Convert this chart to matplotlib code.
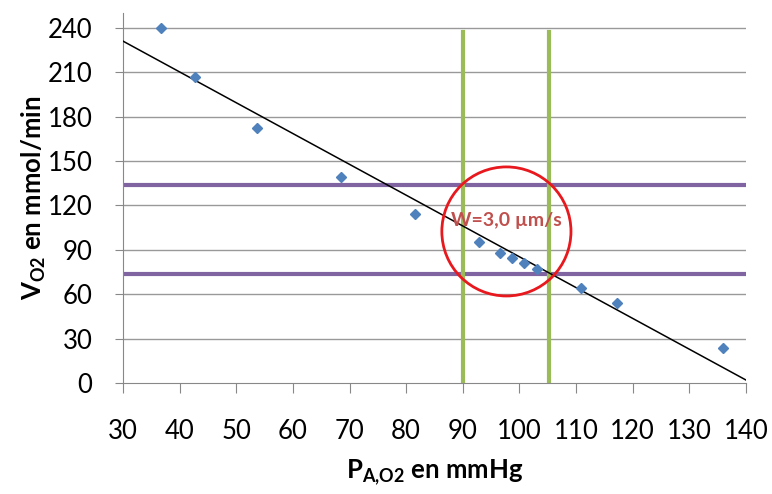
import numpy as np
import matplotlib
matplotlib.use('Agg')
import matplotlib.pyplot as plt
from matplotlib.patches import Ellipse

plt.rcParams['font.family'] = ['Lato', 'DejaVu Sans']
plt.rcParams['mathtext.fontset'] = 'custom'
plt.rcParams['mathtext.rm'] = 'Lato:bold'
plt.rcParams['mathtext.it'] = 'Lato:bold'
plt.rcParams['mathtext.bf'] = 'Lato:bold'

# measured points
p_ao2 = [36.7, 42.7, 53.7, 68.5, 81.6, 92.9, 96.6, 98.7, 100.8, 103.1, 110.9, 117.3, 136.0]
v_o2 = [240, 207, 172, 139, 114, 95, 88, 84.5, 81, 77, 64, 54, 23.5]

# trend line end points
trend_x = [30, 140]
trend_y = [231, 2]

# limits marked on the chart
v_limits = [133.5, 73.5]
p_limits = [90, 105.3]
circle_center = (97.7, 102.4)
circle_size = (22.8, 87.2)
note = 'W=3,0 µm/s'

xticks = np.arange(30, 141, 10)
yticks = np.arange(0, 241, 30)

fig = plt.figure(figsize=(7.72, 4.94), dpi=100)
ax = fig.add_axes([0.1593, 0.2247, 0.807, 0.7490])

for yv in yticks[1:]:
    ax.axhline(yv, color='#999999', lw=1.0, zorder=1)

for yv in v_limits:
    ax.axhline(yv, color='#8064A2', lw=3, zorder=2)
for xv in p_limits:
    ax.plot([xv, xv], [0, 237], color='#9BBB59', lw=3, zorder=2)

ax.plot(trend_x, trend_y, color='black', lw=1.1, zorder=3)
ax.plot(p_ao2, v_o2, 'D', color='#4F81BD', markersize=5.5, zorder=4)

ax.add_patch(Ellipse(circle_center, circle_size[0], circle_size[1], fill=False,
                     edgecolor='#E8191E', lw=2, zorder=5))
ax.text(circle_center[0], 110, note, color='#C0504D', fontsize=14,
        fontweight='bold', ha='center', va='center', zorder=6)

ax.set_xlim(30, 140)
ax.set_ylim(0, 250)
ax.set_xticks(xticks)
ax.set_yticks(yticks)
ax.tick_params(axis='x', direction='out', length=7, pad=19, labelsize=18.5,
               color='#888888')
ax.tick_params(axis='y', direction='out', length=6, pad=16, labelsize=18.5,
               color='#888888')
for s in ['top', 'right']:
    ax.spines[s].set_visible(False)
for s in ['left', 'bottom']:
    ax.spines[s].set_color('#888888')

ax.set_xlabel(r'P$_{\rm A{,}O2}$ en mmHg', fontsize=18.5, fontweight='bold', labelpad=9)
ax.set_ylabel(r'V$_{\rm O2}$ en mmol/min', fontsize=18.5, fontweight='bold', labelpad=0)

fig.savefig('out.png', dpi=100)
